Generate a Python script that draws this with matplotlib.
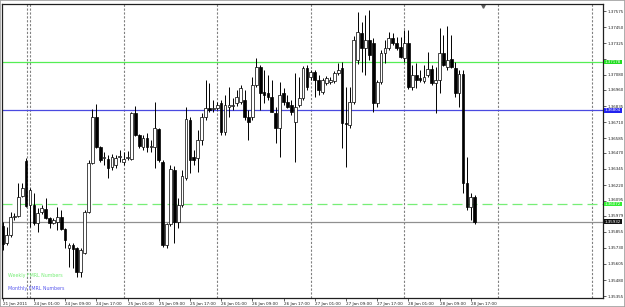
import matplotlib
matplotlib.use("Agg")
import matplotlib.pyplot as plt
from matplotlib.patches import Rectangle
from matplotlib.transforms import blended_transform_factory, offset_copy

# EURUSD-style H1 candles, 21 Jan 2011 17:00 -> 28 Jan 2011 18:00
opens = [1.35901, 1.35768, 1.35831, 1.35971, 1.35979, 1.36134, 1.36407, 1.36064, 1.36064, 1.35924,
         1.36010, 1.36033, 1.35963, 1.35924, 1.35932, 1.35971, 1.35877, 1.35729, 1.35753, 1.35729,
         1.35542, 1.35690, 1.36010, 1.36391, 1.36750, 1.36516, 1.36430, 1.36423, 1.36360, 1.36376,
         1.36438, 1.36399, 1.36430, 1.36423, 1.36781, 1.36609, 1.36516, 1.36586, 1.36516, 1.36516,
         1.36656, 1.36399, 1.35753, 1.35916, 1.36337, 1.35932, 1.36064, 1.36275, 1.36726, 1.36438,
         1.36430, 1.36571, 1.36750, 1.36820, 1.36812, 1.36820, 1.36859, 1.36633, 1.36828, 1.36835,
         1.36859, 1.36867, 1.36882, 1.36750, 1.36750, 1.36999, 1.37139, 1.36944, 1.36937, 1.36905,
         1.36781, 1.36664, 1.36937, 1.36867, 1.36843, 1.36711, 1.36843, 1.36898, 1.37131, 1.37061,
         1.37100, 1.37038, 1.36944, 1.37015, 1.37022, 1.37030, 1.37092, 1.37131, 1.36703, 1.36687,
         1.36867, 1.37194, 1.37404, 1.37287, 1.37349, 1.37326, 1.36859, 1.37022, 1.37248, 1.37287,
         1.37365, 1.37326, 1.37295, 1.37209, 1.37326, 1.36983, 1.37077, 1.37053, 1.37030, 1.37077,
         1.37124, 1.37015, 1.37038, 1.37248, 1.37139, 1.37201, 1.37131, 1.36937, 1.37085, 1.36236,
         1.36049, 1.36127]
highs = [1.35932, 1.35893, 1.36010, 1.36002, 1.36236, 1.36236, 1.36430, 1.36197, 1.36158, 1.36041,
         1.36064, 1.36119, 1.35971, 1.35963, 1.36049, 1.36025, 1.35885, 1.35768, 1.35768, 1.35737,
         1.35729, 1.36025, 1.36415, 1.36812, 1.36851, 1.36524, 1.36477, 1.36454, 1.36461, 1.36454,
         1.36493, 1.36477, 1.36485, 1.36789, 1.36835, 1.36617, 1.36609, 1.36625, 1.36571, 1.36867,
         1.36664, 1.36415, 1.35924, 1.36376, 1.36368, 1.36119, 1.36337, 1.36828, 1.36750, 1.36493,
         1.36648, 1.36781, 1.37038, 1.37015, 1.36882, 1.36867, 1.36882, 1.36921, 1.36983, 1.36898,
         1.36960, 1.36999, 1.36960, 1.36804, 1.37061, 1.37209, 1.37155, 1.37116, 1.37077, 1.37038,
         1.36828, 1.37022, 1.36976, 1.36921, 1.36882, 1.37092, 1.37061, 1.37147, 1.37155, 1.37116,
         1.37116, 1.37077, 1.37053, 1.37069, 1.37061, 1.37108, 1.37170, 1.37178, 1.36983, 1.36983,
         1.37381, 1.37568, 1.37490, 1.37544, 1.37583, 1.37365, 1.37038, 1.37272, 1.37349, 1.37412,
         1.37404, 1.37373, 1.37373, 1.37427, 1.37427, 1.37155, 1.37170, 1.37116, 1.37155, 1.37256,
         1.37155, 1.37139, 1.37443, 1.37388, 1.37458, 1.37388, 1.37178, 1.37116, 1.37116, 1.36438,
         1.36158, 1.36142]
lows = [1.35714, 1.35753, 1.35815, 1.35947, 1.35971, 1.36127, 1.36049, 1.35893, 1.35908, 1.35854,
        1.35994, 1.35955, 1.35885, 1.35916, 1.35870, 1.35870, 1.35729, 1.35581, 1.35574, 1.35503,
        1.35503, 1.35683, 1.36002, 1.36384, 1.36508, 1.36399, 1.36376, 1.36275, 1.36337, 1.36352,
        1.36399, 1.36376, 1.36415, 1.36415, 1.36602, 1.36508, 1.36493, 1.36477, 1.36477, 1.36352,
        1.36399, 1.35737, 1.35729, 1.35901, 1.35768, 1.35885, 1.36049, 1.36259, 1.36314, 1.36376,
        1.36321, 1.36532, 1.36726, 1.36789, 1.36789, 1.36804, 1.36609, 1.36609, 1.36750, 1.36804,
        1.36835, 1.36851, 1.36726, 1.36571, 1.36726, 1.36983, 1.36804, 1.36859, 1.36882, 1.36789,
        1.36547, 1.36438, 1.36843, 1.36820, 1.36765, 1.36399, 1.36828, 1.36882, 1.36960, 1.37038,
        1.36905, 1.36921, 1.36929, 1.36999, 1.37007, 1.37015, 1.37077, 1.36508, 1.36360, 1.36664,
        1.36851, 1.37163, 1.37100, 1.37077, 1.37194, 1.36789, 1.36828, 1.37007, 1.37170, 1.37272,
        1.37310, 1.37272, 1.37209, 1.37178, 1.36968, 1.36960, 1.36976, 1.37022, 1.37015, 1.37061,
        1.36999, 1.36781, 1.36937, 1.37147, 1.37116, 1.37131, 1.36905, 1.36828, 1.36158, 1.36025,
        1.35947, 1.35916]
closes = [1.35760, 1.35831, 1.35971, 1.35979, 1.36127, 1.36197, 1.36056, 1.36181, 1.35924, 1.36002,
          1.36041, 1.35963, 1.35924, 1.35947, 1.35971, 1.35877, 1.35792, 1.35753, 1.35722, 1.35542,
          1.35714, 1.36010, 1.36391, 1.36750, 1.36516, 1.36415, 1.36438, 1.36352, 1.36438, 1.36430,
          1.36446, 1.36423, 1.36438, 1.36781, 1.36609, 1.36524, 1.36586, 1.36516, 1.36524, 1.36664,
          1.36415, 1.35753, 1.35916, 1.36345, 1.35932, 1.36064, 1.36290, 1.36734, 1.36415, 1.36415,
          1.36571, 1.36750, 1.36820, 1.36804, 1.36820, 1.36843, 1.36633, 1.36843, 1.36843, 1.36843,
          1.36905, 1.36976, 1.36750, 1.36711, 1.36999, 1.37139, 1.36937, 1.36921, 1.36905, 1.36789,
          1.36664, 1.36921, 1.36867, 1.36828, 1.36789, 1.36828, 1.36898, 1.37131, 1.36983, 1.37100,
          1.37038, 1.36960, 1.37038, 1.37053, 1.37038, 1.37092, 1.37116, 1.36703, 1.36695, 1.36867,
          1.37349, 1.37412, 1.37287, 1.37349, 1.37233, 1.36859, 1.37022, 1.37248, 1.37287, 1.37365,
          1.37326, 1.37287, 1.37217, 1.37326, 1.36983, 1.37077, 1.37038, 1.37038, 1.37061, 1.37124,
          1.37015, 1.37038, 1.37248, 1.37155, 1.37194, 1.37139, 1.36937, 1.37085, 1.36236, 1.36049,
          1.36127, 1.35932]

price_ticks = [1.37575, 1.37450, 1.37325, 1.37200, 1.37080, 1.36960, 1.36835, 1.36710, 1.36585,
               1.36470, 1.36345, 1.36220, 1.36095, 1.35979, 1.35855, 1.35730, 1.35605, 1.35480, 1.35355]
time_labels = ["21 Jan 2011", "24 Jan 01:00", "24 Jan 09:00", "24 Jan 17:00", "25 Jan 01:00",
               "25 Jan 09:00", "25 Jan 17:00", "26 Jan 01:00", "26 Jan 09:00", "26 Jan 17:00",
               "27 Jan 01:00", "27 Jan 09:00", "27 Jan 17:00", "28 Jan 01:00", "28 Jan 09:00",
               "28 Jan 17:00"]

weekly_level = 1.37178
weekly_level2 = 1.36072
monthly_level = 1.36804

first_day_bar = 7   # 24 Jan 00:00
bars_per_day = 24
label_step = 8

fig = plt.figure(figsize=(6.25, 3.07), dpi=100)
ax = fig.add_axes([2 / 625, 9 / 307, 601 / 625, 294 / 307])
ax.set_xlim(-0.18, 153.9)
ax.set_ylim(1.353399, 1.376298)

n = len(opens)
xs = list(range(n))

# day separators
seps = [6.2] + list(range(first_day_bar, 154, bars_per_day))
for s in seps:
    ax.axvline(s, color='#808080', lw=0.8, ls=(0, (2, 1.5)), zorder=1)

# levels
ax.axhline(weekly_level, color='#55ee55', lw=0.9, zorder=2)
ax.axhline(weekly_level2, color='#77ee77', lw=0.9, ls=(0, (8, 4)), zorder=2)
ax.axhline(monthly_level, color='#4a4ae0', lw=0.9, zorder=2)
ax.axhline(closes[-1], color='#909090', lw=0.9, zorder=2)

# candles
ax.vlines(xs, lows, highs, color='black', lw=0.7, zorder=3)
bottoms = [min(o, c) for o, c in zip(opens, closes)]
heights = [max(abs(c - o), 0.00002) for o, c in zip(opens, closes)]
colors = ['white' if c >= o else 'black' for o, c in zip(opens, closes)]
ax.bar(xs, heights, bottom=bottoms, width=0.7, color=colors, edgecolor='black',
       linewidth=0.5, zorder=4)

# axes styling
for side in ['top', 'left', 'right', 'bottom']:
    ax.spines[side].set_linewidth(0.9)
    ax.spines[side].set_color('#202020')
ax.yaxis.tick_right()
ax.set_yticks(price_ticks)

tr = blended_transform_factory(ax.transAxes, ax.transData)
labels = []
for p in price_ticks:
    if abs(p - weekly_level) < 0.0004:
        # hidden under the weekly price box, as on the terminal
        labels.append("")
    elif abs(p - weekly_level2) < 0.0004:
        # nudged up so it clears the dashed level's box
        labels.append("")
        ax.text(1.0, p, f"{p:.5f}", fontsize=2.9, color='#202020', ha='left', va='bottom',
                transform=offset_copy(tr, fig=fig, x=4.5, y=-0.5, units='dots'), clip_on=False)
    else:
        labels.append(f"{p:.5f}")
ax.set_yticklabels(labels)
ax.tick_params(axis='y', labelsize=2.9, length=2, width=0.5, pad=1.2, colors='#202020')

ax.set_xticks(list(range(0, label_step * len(time_labels), label_step)))
ax.set_xticklabels(time_labels, ha='left')
ax.tick_params(axis='x', labelsize=3, length=2, width=0.5, pad=0.8, colors='#202020')

# price boxes on the right scale
boxes = [(weekly_level, '#22dd22'), (monthly_level, '#2222ee'),
         (weekly_level2, '#33ee33'), (closes[-1], '#111111')]
for lvl, col in boxes:
    ax.text(1.003, lvl, f"{lvl:.5f}", transform=tr, ha='left', va='center', fontsize=2.9,
            color='white', zorder=10, clip_on=False,
            bbox=dict(boxstyle='square,pad=0.12', fc=col, ec='none'))

# legend texts
ax.text(0.01, 0.075, "Weekly FMRL Numbers", transform=ax.transAxes, fontsize=3.4,
        color='#77ee77', va='center', ha='left')
ax.text(0.01, 0.034, "Monthly FMRL Numbers", transform=ax.transAxes, fontsize=3.4,
        color='#5a5aee', va='center', ha='left')

# chart shift marker
ax.plot([0.8], [0.992], marker='v', ms=2.5, color='#606060', transform=ax.transAxes,
        clip_on=False)

fig.add_artist(Rectangle((0, 0), 1, 1, transform=fig.transFigure, fill=False,
                         edgecolor='#a0a0a0', lw=1.2))

fig.savefig('out.png', dpi=100)
